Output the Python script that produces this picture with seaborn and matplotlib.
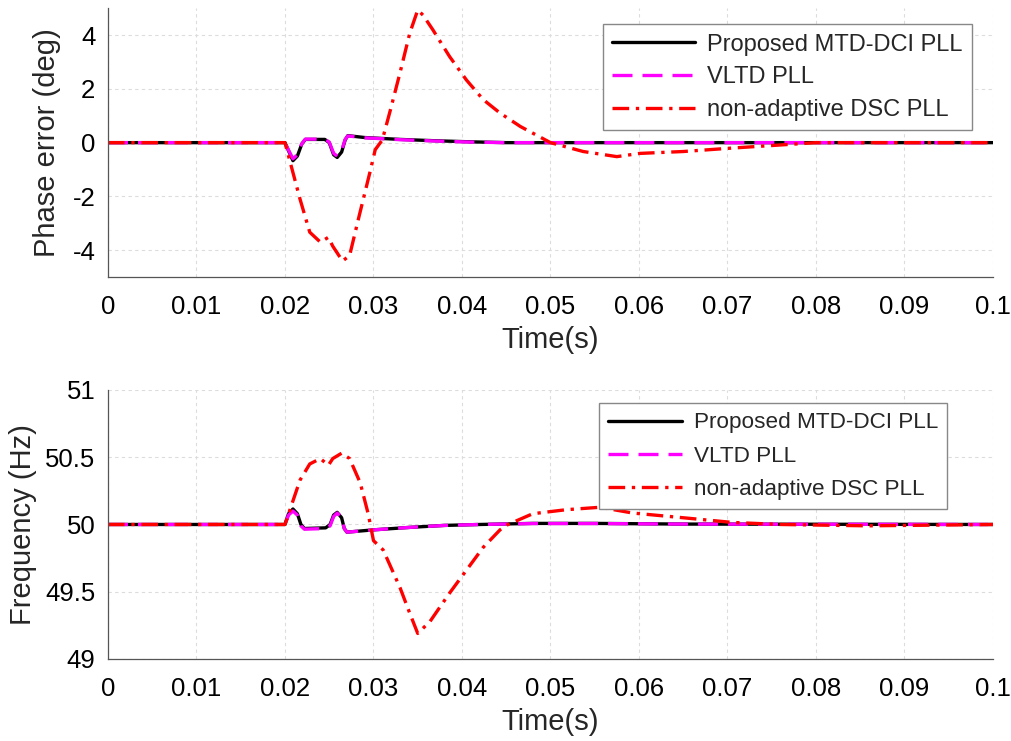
import numpy as np
import pandas as pd
import matplotlib
matplotlib.use("Agg")
import matplotlib.pyplot as plt
import seaborn as sns

sns.set_theme(style="white")
plt.rcParams['font.family'] = ['Liberation Sans', 'DejaVu Sans']
plt.rcParams['axes.unicode_minus'] = False

# ---- data ----
series_names = ["Proposed MTD-DCI PLL", "VLTD PLL", "non-adaptive DSC PLL"]

# phase error (deg)
t_ph_black = [0, 0.02, 0.0204, 0.0209, 0.0214, 0.0219, 0.0223, 0.0245, 0.0250, 0.0255,
              0.0259, 0.0264, 0.0268, 0.0271, 0.029, 0.033, 0.037, 0.041, 0.045, 0.1]
ph_black = [0, 0, -0.3, -0.67, -0.5, -0.05, 0.12, 0.12, 0.0, -0.45,
            -0.55, -0.35, 0.1, 0.26, 0.19, 0.12, 0.07, 0.03, 0.0, 0]
t_ph_mag = [0, 0.02, 0.0204, 0.0209, 0.0214, 0.0219, 0.0223, 0.0245, 0.0250, 0.0255,
            0.0259, 0.0264, 0.0268, 0.0271, 0.029, 0.033, 0.037, 0.041, 0.045, 0.1]
ph_mag = [0, 0, -0.28, -0.6, -0.45, -0.04, 0.13, 0.13, 0.02, -0.4,
          -0.5, -0.3, 0.12, 0.25, 0.18, 0.11, 0.06, 0.02, 0.0, 0]
t_ph_red = [0, 0.02, 0.0206, 0.0217, 0.0228, 0.0240, 0.0249, 0.0254, 0.0265, 0.0273,
            0.0284, 0.0296, 0.0302, 0.031, 0.0319, 0.033, 0.0341, 0.035, 0.0356, 0.0367,
            0.0386, 0.0405, 0.0424, 0.0443, 0.0466, 0.05, 0.0537, 0.0575, 0.0601, 0.065,
            0.0706, 0.0763, 0.080, 0.1]
ph_red = [0, 0, -0.74, -2.1, -3.33, -3.7, -3.52, -3.85, -4.4, -4.2,
          -2.7, -1.1, -0.26, 0.1, 1.2, 2.6, 4.07, 4.93, 4.74, 4.2,
          3.2, 2.33, 1.6, 1.1, 0.6, 0, -0.33, -0.52, -0.4, -0.33,
          -0.2, -0.08, 0, 0]

# frequency (Hz)
t_f_black = [0, 0.02, 0.0204, 0.0209, 0.0214, 0.0218, 0.0222, 0.0246, 0.0251, 0.0255,
             0.0259, 0.0264, 0.0267, 0.0270, 0.030, 0.034, 0.038, 0.042, 0.048, 0.055,
             0.065, 0.1]
f_black = [50, 50, 50.08, 50.115, 50.08, 50.0, 49.97, 49.975, 50.0, 50.07,
           50.09, 50.05, 49.97, 49.943, 49.96, 49.978, 49.993, 50.0, 50.008, 50.008,
           50.003, 50]
t_f_mag = [0, 0.02, 0.0204, 0.0209, 0.0214, 0.0218, 0.0222, 0.0246, 0.0251, 0.0255,
           0.0259, 0.0264, 0.0267, 0.0270, 0.030, 0.034, 0.038, 0.042, 0.048, 0.055,
           0.065, 0.1]
f_mag = [50, 50, 50.07, 50.1, 50.07, 49.99, 49.965, 49.97, 49.99, 50.06,
         50.085, 50.05, 49.97, 49.943, 49.96, 49.978, 49.993, 50.0, 50.007, 50.007,
         50.003, 50]
t_f_red = [0, 0.02, 0.0208, 0.0217, 0.0228, 0.024, 0.0249, 0.0254, 0.0264, 0.0273,
           0.0285, 0.0294, 0.0300, 0.0311, 0.033, 0.0341, 0.035, 0.0364, 0.0386, 0.0405,
           0.0424, 0.0443, 0.0452, 0.048, 0.0518, 0.0556, 0.0593, 0.065, 0.0706, 0.076,
           0.0858, 0.1]
f_red = [50, 50, 50.156, 50.33, 50.45, 50.49, 50.44, 50.49, 50.53, 50.49,
         50.31, 50.08, 49.88, 49.81, 49.53, 49.34, 49.19, 49.28, 49.49, 49.66,
         49.83, 49.96, 50.0, 50.08, 50.11, 50.128, 50.085, 50.05, 50.015, 50.0,
         49.99, 50]

x_ticks = [0, 0.01, 0.02, 0.03, 0.04, 0.05, 0.06, 0.07, 0.08, 0.09, 0.1]
x_ticklabels = ["0", "0.01", "0.02", "0.03", "0.04", "0.05", "0.06", "0.07", "0.08", "0.09", "0.1"]
ph_ticks = [-4, -2, 0, 2, 4]
f_ticks = [49, 49.5, 50, 50.5, 51]
f_ticklabels = ["49", "49.5", "50", "50.5", "51"]

styles = [
    dict(color="black", linestyle="-"),
    dict(color="#ff00ff", linestyle=(0, (6, 3))),
    dict(color="#ff0000", linestyle=(0, (5, 2, 1, 2))),
]
LW = 2.4

fig = plt.figure(figsize=(10.12, 7.41), dpi=100)
ax1 = fig.add_axes([0.1067, 0.626, 0.8745, 0.363])
ax2 = fig.add_axes([0.1067, 0.1107, 0.8745, 0.363])

top_data = [(t_ph_black, ph_black), (t_ph_mag, ph_mag), (t_ph_red, ph_red)]
bot_data = [(t_f_black, f_black), (t_f_mag, f_mag), (t_f_red, f_red)]

for ax, data in [(ax1, top_data), (ax2, bot_data)]:
    for name, (tt, yy), st in zip(series_names, data, styles):
        df = pd.DataFrame({"t": tt, "y": yy})
        sns.lineplot(data=df, x="t", y="y", ax=ax, estimator=None, sort=False,
                     label=name, linewidth=LW, **st)

for ax in (ax1, ax2):
    ax.set_xlim(0, 0.1)
    ax.set_xticks(x_ticks)
    ax.set_xticklabels(x_ticklabels)
    ax.grid(True, color="#dcdcdc", linestyle=(0, (3, 3)), linewidth=0.8)
    ax.set_axisbelow(True)
    for s in ("top", "right"):
        ax.spines[s].set_visible(False)
    for s in ("left", "bottom"):
        ax.spines[s].set_color("#555555")
        ax.spines[s].set_linewidth(0.9)
    ax.tick_params(direction="in", length=5, width=0.8, color="#555555",
                   labelsize=18.5, labelcolor="black")
    ax.tick_params(axis="x", pad=13)
    ax.tick_params(axis="y", pad=9)
    ax.set_xlabel("Time(s)", fontsize=21, labelpad=5)

ax1.set_ylim(-5, 5)
ax1.set_yticks(ph_ticks)
ax1.set_ylabel("Phase error (deg)", fontsize=21, labelpad=8)
ax2.set_ylim(49, 51)
ax2.set_yticks(f_ticks)
ax2.set_yticklabels(f_ticklabels)
ax2.set_ylabel("Frequency (Hz)", fontsize=21, labelpad=6)

leg_kw = dict(frameon=True, fancybox=False, edgecolor="#888888",
              borderpad=0.4, handletextpad=0.5, borderaxespad=0, framealpha=1)
leg1 = ax1.legend(loc="upper right", bbox_to_anchor=(0.976, 0.94), fontsize=17,
                  handlelength=3.5, labelspacing=0.45, **leg_kw)
leg2 = ax2.legend(loc="upper right", bbox_to_anchor=(0.948, 0.95), fontsize=16.2,
                  handlelength=3.3, labelspacing=0.55, **leg_kw)
for leg in (leg1, leg2):
    leg.get_frame().set_linewidth(1.0)

fig.savefig("out.png", dpi=100)
